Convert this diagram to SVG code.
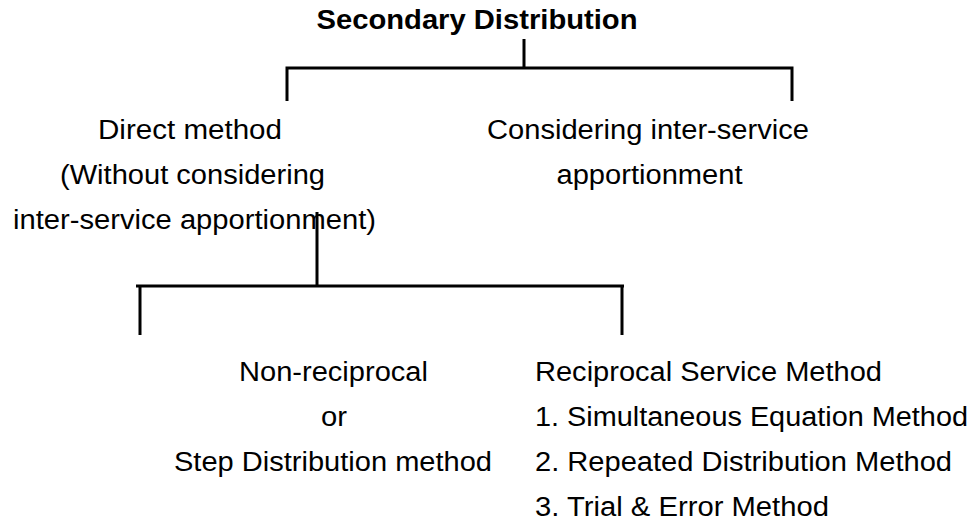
<svg xmlns="http://www.w3.org/2000/svg" width="977" height="527" viewBox="0 0 977 527">
<style>
  .t { font-family: "Liberation Sans", Arial, sans-serif; font-size: 27px; fill: #000; }
  .b { font-weight: bold; }
  .c { fill: none; stroke: #000; stroke-width: 3; }
</style>
<rect width="977" height="527" fill="#fff"/>
<g id="connectors">
  <path class="c" d="M524,39 V68 M285.5,68 H793.5 M287,68 V101 M792,68 V101"/>
  <path class="c" d="M317,212 V286 M136,286 H624 M140,286 V335 M622,286 V335"/>
</g>
<g id="secondary-distribution">
  <text class="t b" x="316.5" y="29" textLength="321" lengthAdjust="spacingAndGlyphs">Secondary Distribution</text>
</g>
<g id="direct-method">
  <text class="t" x="98" y="139" textLength="184" lengthAdjust="spacingAndGlyphs">Direct method</text>
  <text class="t" x="60" y="184" textLength="265" lengthAdjust="spacingAndGlyphs">(Without considering</text>
  <text class="t" x="13" y="229" textLength="363" lengthAdjust="spacingAndGlyphs">inter-service apportionment)</text>
</g>
<g id="considering-inter-service">
  <text class="t" x="487" y="139" textLength="322" lengthAdjust="spacingAndGlyphs">Considering inter-service</text>
  <text class="t" x="556.5" y="184" textLength="186" lengthAdjust="spacingAndGlyphs">apportionment</text>
</g>
<g id="non-reciprocal">
  <text class="t" x="239" y="381" textLength="189" lengthAdjust="spacingAndGlyphs">Non-reciprocal</text>
  <text class="t" x="321" y="426" textLength="26" lengthAdjust="spacingAndGlyphs">or</text>
  <text class="t" x="174" y="471" textLength="318" lengthAdjust="spacingAndGlyphs">Step Distribution method</text>
</g>
<g id="reciprocal-service">
  <text class="t" x="535" y="381" textLength="347" lengthAdjust="spacingAndGlyphs">Reciprocal Service Method</text>
  <text class="t" x="535" y="426" textLength="433" lengthAdjust="spacingAndGlyphs">1. Simultaneous Equation Method</text>
  <text class="t" x="535" y="471" textLength="417" lengthAdjust="spacingAndGlyphs">2. Repeated Distribution Method</text>
  <text class="t" x="535" y="516" textLength="294" lengthAdjust="spacingAndGlyphs">3. Trial &amp; Error Method</text>
</g>
</svg>
